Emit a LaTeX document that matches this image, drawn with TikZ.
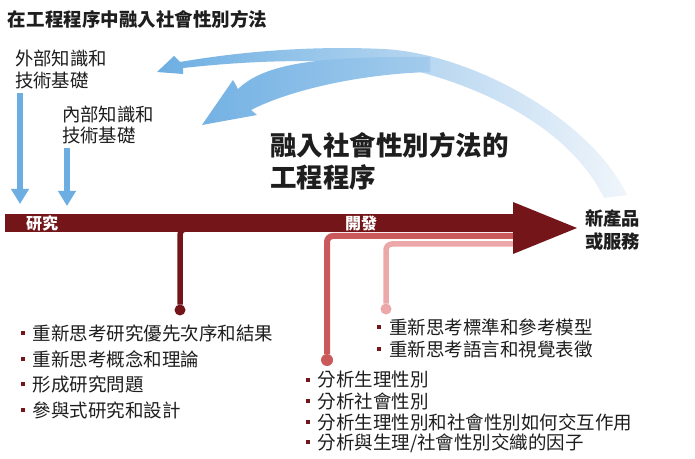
\documentclass[tikz,border=0pt]{standalone}
\usepackage{fontspec}
\setmainfont{Noto Sans CJK TC}
\usepackage{xcolor}
\usepackage{tikz}
\usetikzlibrary{arrows.meta}

\newcommand{\bulletbox}{\textcolor{shaftColor}{\rule[5pt]{4pt}{4pt}}\hspace{8pt}}

\begin{document}
\begin{tikzpicture}[x=1pt,y=1pt,
  plainText/.style={text=textColor,anchor=west,inner sep=0pt,outer sep=0pt,align=left,font=\fontsize{18.4}{22}\selectfont},
  listText/.style={text=textColor,anchor=west,inner sep=0pt,outer sep=0pt,font=\fontsize{18.5}{22}\selectfont},
  barText/.style={text=white,inner sep=0pt,outer sep=0pt,font=\fontsize{16}{16}\selectfont\bfseries},
  kbArrow/.style={draw=arrowBlue,line width=6.5pt,shorten <=4pt,-{Triangle[width=17pt,length=15pt]}},
  branch/.style={line width=5.5pt,rounded corners=6pt},
  dotMark/.style={circle,inner sep=0pt,outer sep=0pt,minimum size=11pt}]
\definecolor{fillColor}{RGB}{255,255,255}
\definecolor{textColor}{RGB}{30,30,30}
\definecolor{shaftColor}{RGB}{116,22,25}
\definecolor{midColor}{RGB}{201,89,91}
\definecolor{lightColor}{RGB}{236,167,169}
\definecolor{arrowBlue}{RGB}{108,174,226}
\definecolor{fadeBlue}{RGB}{240,245,251}
\path[use as bounding box,fill=fillColor] (0,0) rectangle (695,458);

\node[plainText,font=\fontsize{18.5}{22}\selectfont\bfseries] (mainTitle) at (8,438.5) {在工程程序中融入社會性別方法};

\node[plainText] (extKnow) at (15,389) {外部知識和\\技術基礎};

\node[plainText,font=\fontsize{18.4}{21}\selectfont] (intKnow) at (62,333.5) {內部知識和\\技術基礎};

\node[plainText,font=\fontsize{26.5}{32}\selectfont\bfseries] (procTitle) at (270,297) {融入社會性別方法的\\工程程序};

\node[plainText,font=\fontsize{18.3}{23}\selectfont\bfseries] (newProd) at (585,227.5) {新產品\\或服務};

\path[left color=arrowBlue,middle color=arrowBlue!70!fadeBlue,right color=fadeBlue] (157,386) -- (174,402) -- (180,396) .. controls (250,408) and (320,412) .. (383,409) .. controls (470,405) and (590,340) .. (627,263) -- (604,260) .. controls (570,330) and (480,375) .. (390,393) .. controls (300,401) and (230,395) .. (183,390) -- (183,384) -- cycle;

\path[left color=fadeBlue!6!arrowBlue,right color=fadeBlue!41!arrowBlue] (202,333) -- (233,378) -- (238,369) .. controls (265,395) and (320,402) .. (430,401) -- (430,386) .. controls (360,384) and (290,368) .. (251,348) -- (257,343) -- cycle;

\coordinate (resIn1) at (20,254);

\coordinate (resIn2) at (67,252);

\draw[kbArrow] (extKnow.south -| resIn1) -- (resIn1);

\draw[kbArrow] (intKnow.south -| resIn2) -- (resIn2);

\node[dotMark,fill=shaftColor] (resDot) at (180,148) {};

\node[dotMark,fill=midColor,minimum size=12pt] (devDot) at (327,98) {};

\node[dotMark,fill=lightColor] (stdDot) at (386,149) {};

\draw[branch,draw=lightColor] (520,214) -- (386,214) -- (stdDot);

\draw[branch,draw=midColor,line width=6pt] (520,222) -- (327,222) -- (devDot);

\draw[branch,draw=shaftColor] (230,229) -- (180,229) -- (resDot);

\fill[shaftColor] (5,226) rectangle (513,244);

\fill[shaftColor] (513,256) -- (577,230) -- (513,204) -- cycle;

\node[barText] (resLabel) at (42,235) {研究};

\node[barText] (devLabel) at (361,235) {開發};

\node[listText] (resItemA) at (20.7,125) {\bulletbox 重新思考研究優先次序和結果};

\node[listText] (resItemB) at (20.7,99) {\bulletbox 重新思考概念和理論};

\node[listText] (resItemC) at (20.7,73.5) {\bulletbox 形成研究問題};

\node[listText] (resItemD) at (20.7,48) {\bulletbox 參與式研究和設計};

\node[listText] (stdItemA) at (377,131) {\bulletbox 重新思考標準和參考模型};

\node[listText] (stdItemB) at (377,109) {\bulletbox 重新思考語言和視覺表徵};

\node[listText] (devItemA) at (305.7,78) {\bulletbox 分析生理性別};

\node[listText] (devItemB) at (305.7,57) {\bulletbox 分析社會性別};

\node[listText] (devItemC) at (305.7,36) {\bulletbox 分析生理性別和社會性別如何交互作用};

\node[listText] (devItemD) at (305.7,15) {\bulletbox 分析與生理/社會性別交織的因子};
\end{tikzpicture}
\end{document}
